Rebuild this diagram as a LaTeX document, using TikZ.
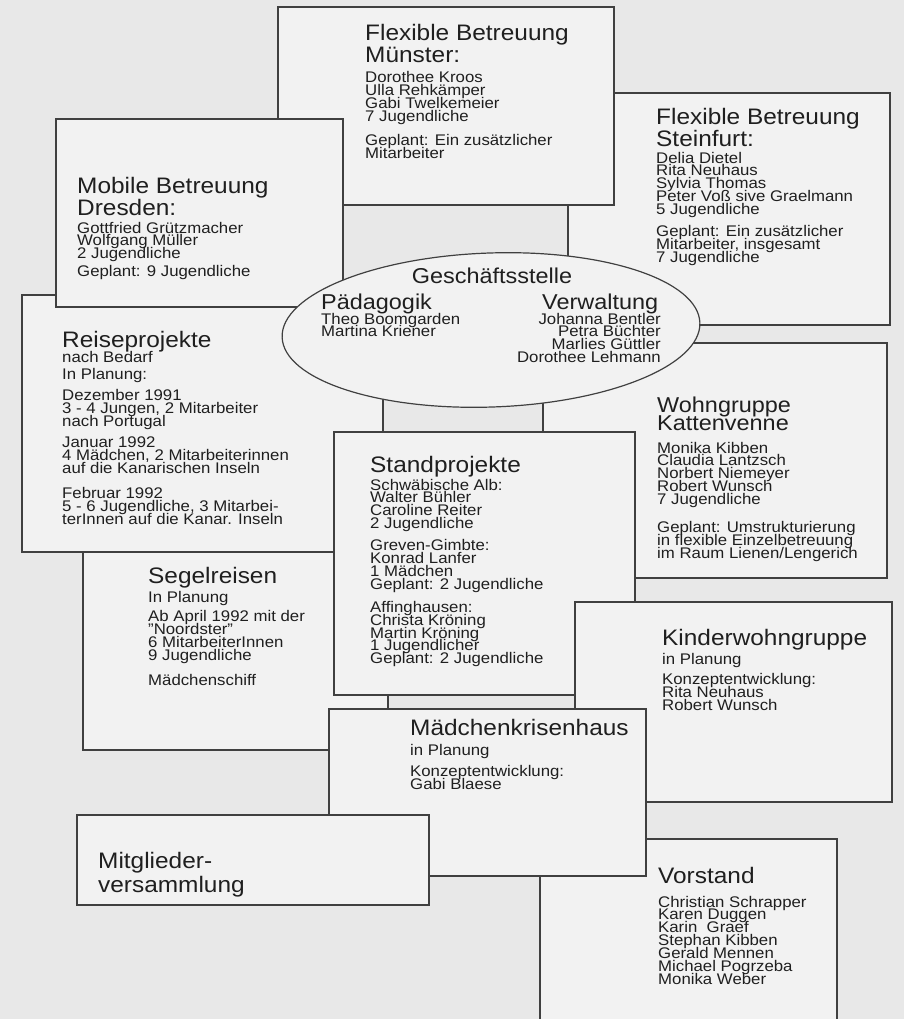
\documentclass[tikz,border=0pt]{standalone}
\usepackage{fontspec}
\setmainfont{Liberation Sans}[FakeStretch=1.09]
\usetikzlibrary{shapes.geometric}
\definecolor{bg}{gray}{0.91}
\definecolor{boxfill}{gray}{0.95}
\definecolor{ink}{gray}{0.12}
\definecolor{edge}{gray}{0.25}
\newcommand\tsize{\fontsize{22.4}{22}\selectfont\lineskiplimit=-50pt\relax}
\newcommand\tsizeK{\fontsize{21.5}{18.5}\selectfont\lineskiplimit=-50pt\relax}
\newcommand\tsizeM{\fontsize{22.4}{24}\selectfont\lineskiplimit=-50pt\relax}
\newcommand\bsize{\fontsize{15.4}{12.9}\selectfont\lineskiplimit=-50pt\relax}
\newcommand\esize{\fontsize{21.5}{21}\selectfont}
\begin{document}
% note: the base anchor of a multi-line node lies on its LAST line
\begin{tikzpicture}[x=1pt,y=-1pt,
  panel/.style={draw=edge, fill=boxfill, line width=1.2pt, rectangle, inner sep=0pt, outer sep=0pt, anchor=north west},
  ttl/.style={anchor=base west, inner sep=0pt, align=left, text=ink, font=\tsize},
  bdy/.style={anchor=base west, inner sep=0pt, align=left, text=ink, font=\bsize},
  ehead/.style={inner sep=0pt, text=ink, font=\esize}]
\useasboundingbox (0,0) rectangle (904,1019);
\fill[bg] (0,0) rectangle (904,1019);
\clip (0,0) rectangle (904,1019);

% back layer
\node[panel, minimum width=361, minimum height=257] (reise) at (22,295) {};
\node[panel, minimum width=322, minimum height=232] (steinfurt) at (568,93) {};
\node[panel, minimum width=336, minimum height=198] (muenster) at (278,7) {};
\node[panel, minimum width=287, minimum height=188] (dresden) at (56,119) {};
\node[panel, minimum width=344, minimum height=235] (katt) at (543,343) {};

% Geschaeftsstelle
\node[draw=edge, fill=boxfill, line width=1.2pt, ellipse, inner sep=0pt,
      minimum width=418, minimum height=154, rotate=2] (gs) at (491,330) {};

\node[panel, minimum width=305, minimum height=198] (segel) at (83,552) {};
\node[panel, minimum width=301, minimum height=263] (stand) at (334,432) {};
\node[panel, minimum width=317, minimum height=200] (kinder) at (575,602) {};
\node[panel, minimum width=297, minimum height=220] (vorstand) at (540,839) {};
\node[panel, minimum width=317, minimum height=167] (maedchen) at (329,709) {};
\node[panel, minimum width=352, minimum height=90] (mitglieder) at (77,815) {};

% texts (positions = baseline of the last line)
\node[ttl] (muensterT) at (365,63) {Flexible Betreuung\\Münster:};
\node[bdy] (muensterB) at (365,158.5) {Dorothee Kroos\\Ulla Rehkämper\\Gabi Twelkemeier\\7 Jugendliche\\[11pt]Geplant: Ein zusätzlicher\\Mitarbeiter};

\node[ttl] (dresdenT) at (77,215) {Mobile Betreuung\\Dresden:};
\node[bdy] (dresdenB) at (77,276.7) {Gottfried Grützmacher\\Wolfgang Müller\\2 Jugendliche\\[5pt]Geplant: 9 Jugendliche};

\node[ttl] (steinfurtT) at (656,147) {Flexible Betreuung\\Steinfurt:};
\node[bdy] (steinfurtB) at (656,262.3) {Delia Dietel\\Rita Neuhaus\\Sylvia Thomas\\Peter Voß sive Graelmann\\5 Jugendliche\\[9pt]Geplant: Ein zusätzlicher\\Mitarbeiter, insgesamt\\7 Jugendliche};

\node[ehead, anchor=base] (gsT) at (492,283) {Geschäftsstelle};
\node[ehead, anchor=base west] (paedT) at (321,309) {Pädagogik};
\node[bdy] (paedB) at (321,336.9) {Theo Boomgarden\\Martina Kriener};
\node[ehead, anchor=base west] (verwT) at (542,309) {Verwaltung};
\node[bdy, align=right, anchor=base east] (verwB) at (661,362.7) {Johanna Bentler\\Petra Büchter\\Marlies Güttler\\Dorothee Lehmann};

\node[ttl] (reiseT) at (62,347) {Reiseprojekte};
\node[bdy] (reiseB) at (62,524) {nach Bedarf\\[5pt]In Planung:\\[8pt]Dezember 1991\\3 - 4 Jungen, 2 Mitarbeiter\\nach Portugal\\[8pt]Januar 1992\\4 Mädchen, 2 Mitarbeiterinnen\\auf die Kanarischen Inseln\\[12pt]Februar 1992\\5 - 6 Jugendliche, 3 Mitarbei-\\terInnen auf die Kanar. Inseln};

\node[ttl, font=\tsizeK] (kattT) at (657,430.5) {Wohngruppe\\Kattenvenne};
\node[bdy] (kattB) at (657,558.3) {Monika Kibben\\Claudia Lantzsch\\Norbert Niemeyer\\Robert Wunsch\\7 Jugendliche\\[15pt]Geplant: Umstrukturierung\\in flexible Einzelbetreuung\\im Raum Lienen/Lengerich};

\node[ttl] (standT) at (370,472) {Standprojekte};
\node[bdy] (standB) at (370,663.8) {Schwäbische Alb:\\Walter Bühler\\Caroline Reiter\\2 Jugendliche\\[9pt]Greven-Gimbte:\\Konrad Lanfer\\1 Mädchen\\Geplant: 2 Jugendliche\\[10pt]Affinghausen:\\Christa Kröning\\Martin Kröning\\1 Jugendlicher\\Geplant: 2 Jugendliche};

\node[ttl] (segelT) at (148,583) {Segelreisen};
\node[bdy] (segelB) at (148,685.5) {In Planung\\[7pt]Ab April 1992 mit der\\"Noordster"\\6 MitarbeiterInnen\\9 Jugendliche\\[12pt]Mädchenschiff};

\node[ttl] (kinderT) at (662,645) {Kinderwohngruppe};
\node[bdy] (kinderB) at (662,710.7) {in Planung\\[8pt]Konzeptentwicklung:\\Rita Neuhaus\\Robert Wunsch};

\node[ttl] (maedchenT) at (410,735) {Mädchenkrisenhaus};
\node[bdy] (maedchenB) at (410,789.8) {in Planung\\[9pt]Konzeptentwicklung:\\Gabi Blaese};

\node[ttl, font=\tsizeM] (mitgliederT) at (98,892) {Mitglieder-\\versammlung};

\node[ttl] (vorstandT) at (658,883) {Vorstand};
\node[bdy] (vorstandB) at (658,984.4) {Christian Schrapper\\Karen Duggen\\Karin\ \ Graef\\Stephan Kibben\\Gerald Mennen\\Michael Pogrzeba\\Monika Weber};
\end{tikzpicture}
\end{document}
